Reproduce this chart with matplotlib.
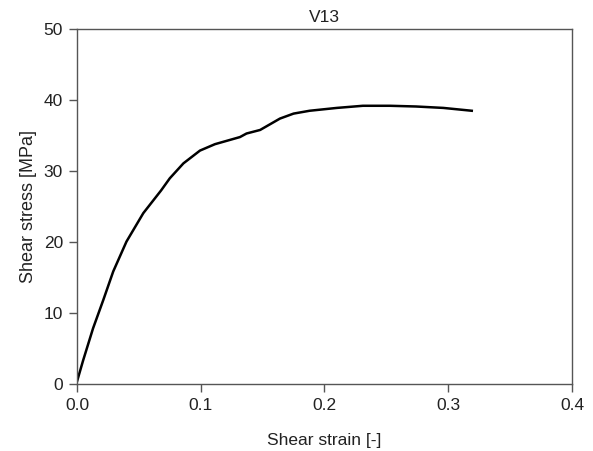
import matplotlib.pyplot as plt

# Данные
strain = [0.0, 0.005, 0.013, 0.0213, 0.0293, 0.040, 0.0536, 0.0617, 0.068, 0.075,
          0.086, 0.0994, 0.1115, 0.1317, 0.137, 0.148, 0.153, 0.164, 0.175, 0.188,
          0.210, 0.231, 0.253, 0.274, 0.296, 0.319]
stress = [0.4, 3.4, 7.9, 11.9, 15.9, 20.1, 24.1, 25.9, 27.3, 29.0,
          31.1, 32.9, 33.8, 34.8, 35.3, 35.8, 36.3, 37.4, 38.1, 38.5,
          38.9, 39.2, 39.2, 39.1, 38.9, 38.5]
x_ticks = [0.0, 0.1, 0.2, 0.3, 0.4]
y_ticks = [0, 10, 20, 30, 40, 50]

plt.rcParams['font.family'] = ['Liberation Sans', 'DejaVu Sans']

fig = plt.figure(figsize=(5.93, 4.51), dpi=100)
ax = fig.add_axes([0.1298, 0.1475, 0.8348, 0.7882])

ax.plot(strain, stress, color='black', linewidth=1.8)

ax.set_xlim(0, 0.4)
ax.set_ylim(0, 50)
ax.set_xticks(x_ticks)
ax.set_xticklabels([f'{t:.1f}' for t in x_ticks])
ax.set_yticks(y_ticks)

for s in ax.spines.values():
    s.set_color('#555555')
    s.set_linewidth(1.0)
ax.tick_params(direction='out', length=6, width=1.0, color='#555555',
               labelsize=12.5, labelcolor='#222222', pad=4)

ax.set_title('V13', fontsize=12.5, color='#222222', pad=5)
ax.set_xlabel('Shear strain [-]', fontsize=12.5, color='#222222', labelpad=14)
ax.set_ylabel('Shear stress [MPa]', fontsize=13, color='#222222', labelpad=5)

fig.savefig('out.png', dpi=100)
